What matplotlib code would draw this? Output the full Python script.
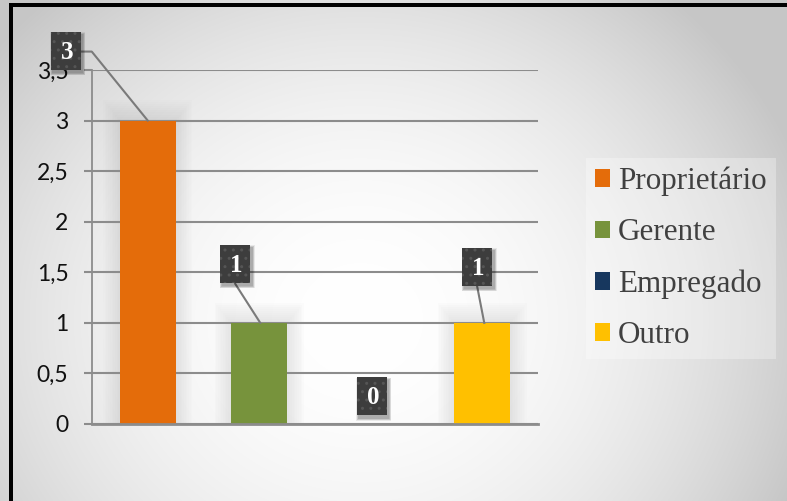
import numpy as np
import matplotlib
matplotlib.use("Agg")
import matplotlib.pyplot as plt
from matplotlib.patches import Rectangle
from matplotlib.lines import Line2D
from matplotlib.transforms import Affine2D

# data
categories = ["Proprietário", "Gerente", "Empregado", "Outro"]
values = [3, 1, 0, 1]
colors = ["#E46C0A", "#77933C", "#17375E", "#FFC000"]
yticks = [0, 0.5, 1, 1.5, 2, 2.5, 3, 3.5]
ytick_labels = ["0", "0,5", "1", "1,5", "2", "2,5", "3", "3,5"]

# label box offsets (pixels, relative to bar top) and leader paths
label_offsets = [(-82, 70), (-24, 59), (1, 28), (-5, 56)]
leader_paths = [
    [(0, 0), (-56, 69), (-67, 69)],
    [(1, 0), (-24, 39)],
    None,
    [(2, 0), (-5, 36)],
]

W, H, DPI = 787, 501, 100
fig = plt.figure(figsize=(W / DPI, H / DPI), dpi=DPI)

# radial background
bg = fig.add_axes([0, 0, 1, 1], zorder=-10)
yy, xx = np.mgrid[0:H, 0:W]
r2 = ((xx - 360) / 360.0) ** 2 + ((yy - 320) / 330.0) ** 2
v = np.clip(1 - 0.13 * r2, 0.78, 1.0)
bg.imshow(np.dstack([v, v, v]), extent=[0, W, 0, H], origin="upper", aspect="auto")
bg.set_xlim(0, W)
bg.set_ylim(0, H)
bg.axis("off")

# black frame on the left and top
fig.add_artist(Rectangle((9 / W, 0), 4 / W, (H - 3) / H, transform=fig.transFigure,
                         color="black", lw=0, zorder=5))
fig.add_artist(Rectangle((9 / W, (H - 7) / H), 1 - 9 / W, 4 / H, transform=fig.transFigure,
                         color="black", lw=0, zorder=5))

ax = fig.add_axes([92 / W, 1 - 424 / H, (538 - 92) / W, (424 - 70) / H])
ax.set_facecolor("none")
x = np.arange(len(categories))
ax.set_xlim(-0.5, len(categories) - 0.5)
ax.set_ylim(0, 3.5)

grid_c = "#8c8c8c"
ax.set_yticks(yticks)
ax.set_yticklabels(ytick_labels, fontfamily="Lato", fontsize=16.5, color="#111111")
ax.tick_params(axis="y", length=6, width=1.5, color=grid_c, pad=11)
ax.set_xticks([])
ax.yaxis.grid(True, color=grid_c, lw=1.5, zorder=0)
ax.set_axisbelow(True)
for s in ["top", "right"]:
    ax.spines[s].set_visible(False)
ax.spines["left"].set_color(grid_c)
ax.spines["left"].set_linewidth(1.3)
ax.spines["bottom"].set_color(grid_c)
ax.spines["bottom"].set_linewidth(2)

# soft glow behind bars
for k in range(10, 0, -1):
    for xi, val in zip(x, values):
        if val > 0:
            ax.bar(xi, val + 0.02 * k, width=0.5 + 0.03 * k, color="#a0a0a0",
                   alpha=0.025, lw=0, zorder=1)

bars = ax.bar(x, values, width=0.5, color=colors, label=categories, zorder=2)

# value labels in dark boxes
bw, bh = 30, 38
for xi, val, off, path in zip(x, values, label_offsets, leader_paths):
    px, py = ax.transData.transform((xi, val))
    tr = Affine2D().translate(px, py)
    if path is not None:
        xs, ys = zip(*path)
        fig.add_artist(Line2D(xs, ys, transform=tr, color="#7a7a7a", lw=1.5, zorder=6))
    cx, cy = off
    for s in range(5, 0, -1):
        fig.add_artist(Rectangle((cx - bw / 2 + 2 - s / 2, cy - bh / 2 - 3 - s / 2),
                                 bw + s, bh + s, transform=tr, color="black",
                                 alpha=0.07, lw=0, zorder=6))
    fig.add_artist(Rectangle((cx - bw / 2, cy - bh / 2), bw, bh, transform=tr,
                             facecolor="#3d3d3d", edgecolor="#555555", hatch="..",
                             lw=0, zorder=7))
    fig.text(cx + 1, cy - 2, f"{val}", transform=tr, ha="center", va="center",
             fontfamily="Liberation Serif", fontweight="bold", fontsize=18,
             color="white", zorder=8)

# legend
leg = fig.legend(handles=list(bars), labels=categories, loc="upper left",
                 bbox_to_anchor=(570 / W, 1 - 142 / H),
                 prop={"family": "Liberation Serif", "size": 22.4},
                 handlelength=0.5, handleheight=0.5, handletextpad=0.25,
                 labelspacing=0.71, borderpad=0.3, frameon=True, fancybox=False)
leg.get_frame().set_facecolor("white")
leg.get_frame().set_alpha(0.3)
leg.get_frame().set_edgecolor("none")
for t in leg.get_texts():
    t.set_color("#404040")

fig.savefig("out.png", dpi=DPI)
